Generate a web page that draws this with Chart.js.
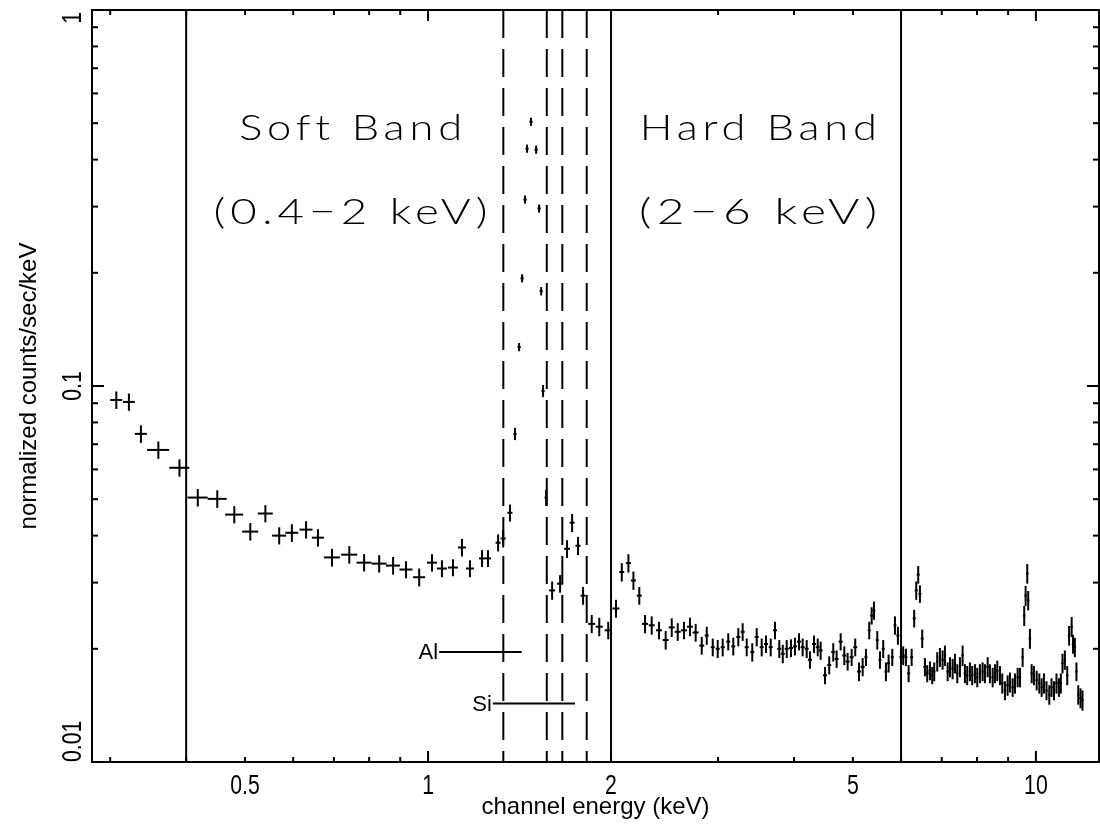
<!DOCTYPE html>
<html>
<head>
<meta charset="utf-8">
<script src="https://cdn.jsdelivr.net/npm/chart.js@4.4.1/dist/chart.umd.min.js"></script>
<style>
  html, body { margin: 0; padding: 0; background: #fff; }
  canvas { display: block; }
</style>
</head>
<body>
<canvas id="spectrumChart" width="1100" height="829"></canvas>
<script>
// channel energy (keV), bin half-width, normalized counts/sec/keV and its error
const energy = [
  0.307,0.322,0.337,0.360,0.390,0.418,0.450,0.480,0.510,0.540,
  0.569,0.597,0.630,0.659,0.695,0.742,0.785,0.831,0.876,0.920,
  0.967,1.015,1.054,1.099,1.137,1.172,1.227,1.255,1.304,1.329,
  1.364,1.390,1.412,1.428,1.444,1.455,1.477,1.506,1.523,1.535,
  1.546,1.564,1.600,1.649,1.693,1.726,1.765,1.799,1.859,1.913,
  1.979,2.038,2.083,2.136,2.177,2.226,2.275,2.333,2.399,2.460,
  2.517,2.575,2.637,2.697,2.756,2.820,2.874,2.940,2.996,3.053,
  3.118,3.178,3.239,3.293,3.344,3.415,3.473,3.539,3.597,3.662,
  3.722,3.783,3.833,3.891,3.954,4.014,4.076,4.133,4.197,4.249,
  4.315,4.376,4.425,4.498,4.571,4.641,4.701,4.773,4.839,4.901,
  4.976,5.044,5.116,5.188,5.253,5.319,5.368,5.415,5.483,5.539,
  5.608,5.666,5.724,5.804,5.863,5.929,5.998,6.049,6.112,6.175,
  6.246,6.306,6.355,6.403,6.445,6.501,6.568,6.625,6.694,6.752,
  6.803,6.882,6.952,7.023,7.085,7.159,7.222,7.295,7.359,7.424,
  7.499,7.575,7.642,7.709,7.788,7.856,7.938,8.008,8.089,8.172,
  8.244,8.330,8.401,8.489,8.563,8.639,8.727,8.803,8.893,8.984,
  9.063,9.157,9.238,9.332,9.414,9.510,9.567,9.618,9.678,9.713,
  9.776,9.840,9.925,10.03,10.13,10.22,10.31,10.41,10.52,10.61,
  10.71,10.81,10.91,10.99,11.06,11.16,11.26,11.34,11.45,11.51,
  11.59,11.66,11.74,11.84,11.93
];
const energyErr = [
  0.0070,0.0073,0.0077,0.0150,0.0148,0.0159,0.0162,0.0164,0.0155,0.0153,
  0.0151,0.0147,0.0155,0.0150,0.0211,0.0225,0.0223,0.0236,0.0232,0.0226,
  0.0220,0.0192,0.0199,0.0208,0.0172,0.0177,0.0140,0.0143,0.0124,0.0126,
  0.0130,0.0085,0.0086,0.0087,0.0088,0.0089,0.0090,0.0092,0.0093,0.0093,
  0.0094,0.0095,0.0182,0.0188,0.0193,0.0164,0.0168,0.0171,0.0247,0.0254,
  0.0263,0.0271,0.0198,0.0203,0.0207,0.0211,0.0259,0.0266,0.0273,0.0280,
  0.0287,0.0294,0.0301,0.0307,0.0314,0.0268,0.0218,0.0223,0.0228,0.0232,
  0.0237,0.0242,0.0246,0.0250,0.0254,0.0260,0.0264,0.0269,0.0273,0.0278,
  0.0283,0.0288,0.0291,0.0296,0.0301,0.0305,0.0310,0.0314,0.0319,0.0323,
  0.0328,0.0333,0.0336,0.0342,0.0347,0.0353,0.0357,0.0363,0.0368,0.0372,
  0.0378,0.0383,0.0389,0.0394,0.0299,0.0303,0.0306,0.0309,0.0313,0.0316,
  0.0320,0.0323,0.0326,0.0331,0.0334,0.0338,0.0342,0.0345,0.0348,0.0352,
  0.0356,0.0359,0.0362,0.0365,0.0367,0.0371,0.0374,0.0378,0.0382,0.0385,
  0.0310,0.0313,0.0316,0.0320,0.0322,0.0326,0.0329,0.0332,0.0335,0.0338,
  0.0341,0.0345,0.0348,0.0351,0.0354,0.0357,0.0361,0.0364,0.0368,0.0372,
  0.0375,0.0379,0.0382,0.0386,0.0390,0.0393,0.0397,0.0401,0.0405,0.0409,
  0.0412,0.0417,0.0420,0.0425,0.0428,0.0433,0.0435,0.0438,0.0440,0.0442,
  0.0445,0.0448,0.0452,0.0456,0.0461,0.0465,0.0469,0.0474,0.0479,0.0483,
  0.0487,0.0492,0.0496,0.0500,0.0503,0.0508,0.0512,0.0516,0.0521,0.0524,
  0.0527,0.0531,0.0534,0.0539,0.0543
];
const rate = [
  0.0918,0.0907,0.0746,0.0676,0.0606,0.0505,0.0501,0.0455,0.0410,0.0458,
  0.0400,0.0407,0.0415,0.0395,0.0350,0.0356,0.0339,0.0337,0.0333,0.0325,
  0.0310,0.0339,0.0327,0.0329,0.0372,0.0327,0.0348,0.0348,0.0383,0.0393,
  0.0460,0.0746,0.1269,0.1934,0.3133,0.4278,0.5045,0.4252,0.2966,0.1787,
  0.0970,0.0505,0.0286,0.0298,0.0369,0.0433,0.0376,0.0277,0.0233,0.0229,
  0.0224,0.0256,0.0320,0.0338,0.0304,0.0277,0.0233,0.0231,0.0224,0.0211,
  0.0228,0.0222,0.0224,0.0229,0.0221,0.0204,0.0217,0.0202,0.0200,0.0202,
  0.0209,0.0203,0.0215,0.0222,0.0202,0.0196,0.0215,0.0202,0.0206,0.0202,
  0.0224,0.0200,0.0194,0.0200,0.0201,0.0203,0.0209,0.0202,0.0200,0.0187,
  0.0206,0.0202,0.0198,0.0170,0.0181,0.0196,0.0188,0.0209,0.0192,0.0185,
  0.0190,0.0202,0.0174,0.0179,0.0190,0.0224,0.0245,0.0253,0.0211,0.0187,
  0.0200,0.0174,0.0183,0.0190,0.0231,0.0217,0.0190,0.0192,0.0190,0.0172,
  0.0190,0.0241,0.0286,0.0315,0.0280,0.0213,0.0179,0.0172,0.0175,0.0170,
  0.0174,0.0185,0.0190,0.0187,0.0192,0.0174,0.0179,0.0177,0.0183,0.0172,
  0.0179,0.0192,0.0172,0.0170,0.0174,0.0170,0.0172,0.0168,0.0172,0.0174,
  0.0172,0.0179,0.0172,0.0168,0.0172,0.0175,0.0170,0.0162,0.0155,0.0160,
  0.0163,0.0158,0.0162,0.0168,0.0168,0.0190,0.0245,0.0277,0.0317,0.0269,
  0.0213,0.0172,0.0170,0.0165,0.0162,0.0158,0.0162,0.0155,0.0151,0.0158,
  0.0155,0.0162,0.0158,0.0162,0.0183,0.0187,0.0170,0.0217,0.0229,0.0206,
  0.0202,0.0174,0.0151,0.0148,0.0146
];
const rateErr = [
  0.0049,0.0048,0.0040,0.0036,0.0032,0.0027,0.0027,0.0024,0.0022,0.0024,
  0.0021,0.0022,0.0022,0.0021,0.0019,0.0019,0.0018,0.0018,0.0018,0.0017,
  0.0017,0.0018,0.0017,0.0017,0.0020,0.0017,0.0018,0.0018,0.0020,0.0021,
  0.0024,0.0028,0.0032,0.0048,0.0078,0.0107,0.0126,0.0106,0.0074,0.0045,
  0.0036,0.0025,0.0016,0.0016,0.0020,0.0024,0.0021,0.0015,0.0013,0.0013,
  0.0012,0.0014,0.0018,0.0019,0.0017,0.0015,0.0013,0.0013,0.0012,0.0012,
  0.0013,0.0012,0.0012,0.0013,0.0012,0.0011,0.0012,0.0011,0.0011,0.0011,
  0.0011,0.0011,0.0012,0.0012,0.0011,0.0011,0.0012,0.0011,0.0011,0.0011,
  0.0012,0.0011,0.0011,0.0011,0.0011,0.0011,0.0011,0.0011,0.0011,0.0010,
  0.0011,0.0011,0.0011,0.0009,0.0010,0.0011,0.0010,0.0011,0.0011,0.0010,
  0.0010,0.0011,0.0010,0.0010,0.0010,0.0012,0.0013,0.0014,0.0012,0.0010,
  0.0011,0.0010,0.0010,0.0010,0.0013,0.0012,0.0010,0.0011,0.0010,0.0009,
  0.0010,0.0013,0.0016,0.0017,0.0015,0.0012,0.0010,0.0009,0.0010,0.0009,
  0.0010,0.0011,0.0011,0.0011,0.0012,0.0010,0.0011,0.0011,0.0011,0.0010,
  0.0011,0.0012,0.0010,0.0010,0.0010,0.0010,0.0010,0.0010,0.0010,0.0010,
  0.0010,0.0011,0.0010,0.0010,0.0010,0.0011,0.0010,0.0010,0.0009,0.0010,
  0.0010,0.0009,0.0010,0.0010,0.0010,0.0011,0.0015,0.0017,0.0019,0.0016,
  0.0013,0.0010,0.0010,0.0010,0.0010,0.0009,0.0010,0.0009,0.0009,0.0009,
  0.0009,0.0010,0.0009,0.0010,0.0011,0.0011,0.0010,0.0013,0.0014,0.0012,
  0.0012,0.0010,0.0009,0.0009,0.0009
];

// band limits (solid) and instrumental edges (dashed), keV
const bandEdges = [0.4, 2, 6];
const detectorEdges = [1.33, 1.568, 1.663, 1.824];

// Al / Si markers: label, energy range, level
const markerLabels = ["Al", "Si"];
const markerFrom = [1.043, 1.278];
const markerTo = [1.426, 1.745];
const markerLevel = [0.0196, 0.0143];

// band captions
const bandText = [["Soft Band", "(0.4\u22122 keV)"], ["Hard Band", "(2\u22126 keV)"]];
const bandTextX = [0.747, 3.50];
const bandTextY = [0.452, 0.269];
const bandTextWidth = [[223, 274], [237, 238]];

// ticks
const xTickLabels = [0.5, 1, 2, 5, 10];
const xMajorTicks = [1, 10];
const xMinorTicks = [0.3, 0.4, 0.5, 0.6, 0.7, 0.8, 0.9, 2, 3, 4, 5, 6, 7, 8, 9];
const yTickLabels = [0.01, 0.1, 1];
const yMajorTicks = [0.1];
const yMinorTicks = [0.02, 0.03, 0.04, 0.05, 0.06, 0.07, 0.08, 0.09, 0.2, 0.3, 0.4, 0.5, 0.6, 0.7, 0.8, 0.9];

const axisFont = "'Liberation Sans', Arial, sans-serif";
const bandFont = "Lato, 'Open Sans', sans-serif";

const points = energy.map((e, i) => ({ x: e, y: rate[i], xErr: energyErr[i], yErr: rateErr[i] }));

function seg(ctx, x1, y1, x2, y2) {
    ctx.beginPath();
    ctx.moveTo(x1, y1);
    ctx.lineTo(x2, y2);
    ctx.stroke();
}

// text squeezed or stretched along its reading direction
function scaledText(ctx, txt, x, y, angle, k) {
    ctx.save();
    ctx.translate(x, y);
    ctx.rotate(angle);
    ctx.scale(k, 1);
    ctx.fillText(txt, 0, 0);
    ctx.restore();
}

const errorBars = {
    id: "errorBars",
    afterDatasetsDraw(chart) {
        const { ctx, scales: { x, y } } = chart;
        ctx.save();
        ctx.strokeStyle = "#000";
        ctx.lineWidth = 2;
        chart.data.datasets[0].data.forEach(p => {
            const px = x.getPixelForValue(p.x);
            const py = y.getPixelForValue(p.y);
            seg(ctx, x.getPixelForValue(p.x - p.xErr), py, x.getPixelForValue(p.x + p.xErr), py);
            seg(ctx, px, y.getPixelForValue(p.y - p.yErr), px, y.getPixelForValue(p.y + p.yErr));
        });
        ctx.restore();
    }
};

const decorations = {
    id: "decorations",
    afterDraw(chart) {
        const { ctx, chartArea: a, scales: { x, y } } = chart;
        ctx.save();
        ctx.strokeStyle = "#000";
        ctx.fillStyle = "#000";
        ctx.lineWidth = 2;

        // frame
        ctx.strokeRect(a.left, a.top, a.right - a.left, a.bottom - a.top);

        // tick marks on all four sides, pointing inward
        const xt = (list, len) => list.forEach(v => {
            const px = x.getPixelForValue(v);
            seg(ctx, px, a.bottom, px, a.bottom - len);
            seg(ctx, px, a.top, px, a.top + len);
        });
        const yt = (list, len) => list.forEach(v => {
            const py = y.getPixelForValue(v);
            seg(ctx, a.left, py, a.left + len, py);
            seg(ctx, a.right, py, a.right - len, py);
        });
        xt(xMinorTicks, 5); xt(xMajorTicks, 11);
        yt(yMinorTicks, 6); yt(yMajorTicks, 12);

        // tick labels
        const sq = 0.76;
        ctx.font = "28px " + axisFont;
        ctx.textAlign = "center";
        ctx.textBaseline = "middle";
        xTickLabels.forEach(v => {
            scaledText(ctx, String(v), x.getPixelForValue(v), a.bottom + 24, 0, sq);
        });
        yTickLabels.forEach(v => {
            const txt = String(v);
            const w = ctx.measureText(txt).width * sq;
            let c = y.getPixelForValue(v);
            c = Math.min(Math.max(c, a.top + w / 2 + 2), a.bottom - w / 2);
            scaledText(ctx, txt, 73, c, -Math.PI / 2, sq);
        });

        // band limits and detector edges
        bandEdges.forEach(v => {
            const px = x.getPixelForValue(v);
            seg(ctx, px, a.top, px, a.bottom);
        });
        ctx.setLineDash([28, 11]);
        detectorEdges.forEach(v => {
            const px = x.getPixelForValue(v);
            seg(ctx, px, a.top, px, a.bottom);
        });
        ctx.setLineDash([]);

        // Al / Si markers
        ctx.font = "22px " + axisFont;
        ctx.textAlign = "right";
        ctx.textBaseline = "middle";
        markerLabels.forEach((lab, i) => {
            const py = y.getPixelForValue(markerLevel[i]);
            const x1 = x.getPixelForValue(markerFrom[i]);
            seg(ctx, x1, py, x.getPixelForValue(markerTo[i]), py);
            ctx.fillText(lab, x1 - 1, py + 1);
        });

        // band captions, fitted to the width they take in the figure
        ctx.font = "300 36px " + bandFont;
        ctx.letterSpacing = "4px";
        ctx.textAlign = "center";
        ctx.textBaseline = "alphabetic";
        bandText.forEach((lines, i) => {
            const px = x.getPixelForValue(bandTextX[i]);
            lines.forEach((txt, j) => {
                const k = bandTextWidth[i][j] / (ctx.measureText(txt).width - 4);
                scaledText(ctx, txt, px + 2, y.getPixelForValue(bandTextY[j]), 0, k);
            });
        });
        ctx.restore();
    }
};

document.addEventListener("DOMContentLoaded", function () {
    let ctx = document.getElementById("spectrumChart").getContext("2d");

    new Chart(ctx, {
        type: "scatter",
        data: {
            datasets: [{
                data: points,
                pointRadius: 0,
                pointHoverRadius: 0,
                showLine: false
            }]
        },
        options: {
            responsive: false,
            animation: false,
            layout: { padding: { top: 10, right: 1, left: 0, bottom: 0 } },
            plugins: {
                legend: { display: false },
                tooltip: { enabled: false }
            },
            scales: {
                x: {
                    type: "logarithmic",
                    min: 0.28,
                    max: 12.7,
                    grid: { display: false, drawTicks: false },
                    border: { display: false },
                    afterFit: s => { s.height = 67; },
                    ticks: { display: false },
                    title: {
                        display: true,
                        text: "channel energy (keV)",
                        color: "#000",
                        font: { family: axisFont, size: 24 },
                        padding: { top: 0, bottom: 7 }
                    }
                },
                y: {
                    type: "logarithmic",
                    min: 0.01,
                    max: 1,
                    grid: { display: false, drawTicks: false },
                    border: { display: false },
                    afterFit: s => { s.width = 92; },
                    ticks: { display: false },
                    title: {
                        display: true,
                        text: "normalized counts/sec/keV",
                        color: "#000",
                        font: { family: axisFont, size: 24 },
                        padding: { top: 15, bottom: 0 }
                    }
                }
            }
        },
        plugins: [errorBars, decorations]
    });
});
</script>
</body>
</html>
